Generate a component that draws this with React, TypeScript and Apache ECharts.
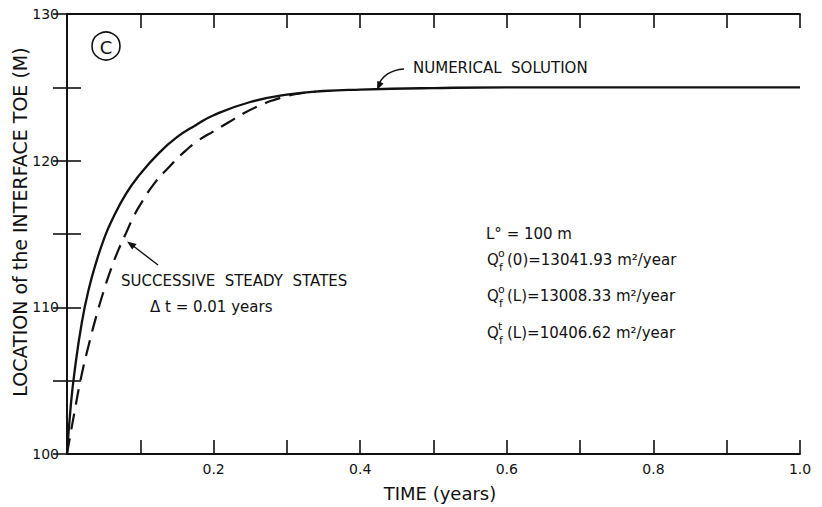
import React, { useEffect, useRef } from "react";
import * as echarts from "echarts";

// Numerical solution (solid line)
const timeNumerical = [0, 0.005, 0.01, 0.02, 0.03, 0.04, 0.05, 0.06, 0.08, 0.1, 0.125, 0.15, 0.175, 0.2, 0.25, 0.3, 0.35, 0.4, 0.5, 0.6, 0.8, 1.0];
const toeNumerical = [100, 103.2, 105.5, 108.9, 111.3, 113.1, 114.6, 115.8, 117.7, 119.1, 120.5, 121.6, 122.4, 123.1, 124.0, 124.5, 124.75, 124.85, 124.95, 125.0, 125.0, 125.0];

// Successive steady states, dt = 0.01 years (dashed line)
const timeSteady = [0, 0.01, 0.02, 0.03, 0.04, 0.05, 0.06, 0.07, 0.08, 0.09, 0.1, 0.12, 0.14, 0.16, 0.18, 0.2, 0.22, 0.24, 0.26, 0.28, 0.3, 0.32, 0.34];
const toeSteady = [100, 102.8, 105.4, 107.5, 109.4, 111.1, 112.6, 113.9, 115.0, 116.1, 117.0, 118.5, 119.6, 120.6, 121.4, 122.0, 122.6, 123.2, 123.7, 124.1, 124.4, 124.6, 124.7];

const xLabelTicks = ["0.2", "0.4", "0.6", "0.8", "1.0"];
const yLabelTicks = ["100", "110", "120", "130"];

const FONT = "DejaVu Sans";
const BLACK = "#111";

export default function App() {
  const ref = useRef<HTMLDivElement>(null);
  useEffect(() => {
    if (!ref.current) return;
    const chart = echarts.init(ref.current, null, { renderer: "svg" });
    const numData = timeNumerical.map((t, i) => [t, toeNumerical[i]]);
    const steadyData = timeSteady.map((t, i) => [t, toeSteady[i]]);
    const axisLine = { show: true, lineStyle: { color: BLACK, width: 1.8 } };
    const tickStyle = { show: true, inside: true, length: 14, lineStyle: { color: BLACK, width: 1.6 } };
    const xFmt = (v: number) => {
      const s = v.toFixed(1);
      return xLabelTicks.includes(s) ? s : "";
    };
    const yFmt = (v: number) => {
      const s = String(Math.round(v));
      return yLabelTicks.includes(s) && Math.abs(v - Math.round(v)) < 1e-6 ? s : "";
    };
    const txt = (x: number, y: number, text: string, size: number, extra: any = {}, el: any = {}) => ({
      type: "text",
      x,
      y,
      silent: true,
      ...el,
      style: {
        text,
        font: `${size}px "${FONT}"`,
        fill: BLACK,
        align: "left",
        verticalAlign: "middle",
        ...extra,
      },
    });
    const qLine = (y: number, sup: string, rest: string) => [
      txt(487, y, "Q", 15),
      txt(498, y - 7, sup, 11),
      txt(499, y + 7, "f", 11),
      txt(507, y, rest, 15),
    ];

    chart.setOption({
      animation: false,
      backgroundColor: "#fff",
      grid: { left: 67, right: 22, top: 14, bottom: 53, containLabel: false },
      xAxis: [
        {
          type: "value",
          min: 0,
          max: 1,
          interval: 0.1,
          position: "bottom",
          axisLine,
          axisTick: tickStyle,
          splitLine: { show: false },
          axisLabel: { formatter: xFmt, color: BLACK, fontFamily: FONT, fontSize: 14, margin: 8 },
        },
        {
          type: "value",
          min: 0,
          max: 1,
          interval: 0.1,
          position: "top",
          axisLine,
          axisTick: tickStyle,
          splitLine: { show: false },
          axisLabel: { show: false },
        },
      ],
      yAxis: [
        {
          type: "value",
          min: 100,
          max: 130,
          interval: 5,
          position: "left",
          axisLine,
          axisTick: tickStyle,
          splitLine: { show: false },
          axisLabel: { formatter: yFmt, color: BLACK, fontFamily: FONT, fontSize: 14, margin: 8 },
        },
        {
          type: "value",
          min: 100,
          max: 130,
          interval: 5,
          position: "right",
          axisLine,
          axisTick: tickStyle,
          splitLine: { show: false },
          axisLabel: { show: false },
        },
      ],
      series: [
        {
          name: "NUMERICAL SOLUTION",
          type: "line",
          data: numData,
          showSymbol: false,
          smooth: 0.5,
          lineStyle: { color: BLACK, width: 2.3 },
          z: 3,
        },
        {
          name: "SUCCESSIVE STEADY STATES",
          type: "line",
          data: steadyData,
          showSymbol: false,
          smooth: 0.5,
          lineStyle: { color: BLACK, width: 2.2, type: [16, 9] },
          z: 2,
        },
      ],
      graphic: [
        // axis titles
        txt(20, 222, "LOCATION of the INTERFACE TOE (M)", 19, { align: "center" }, { rotation: Math.PI / 2 }),
        txt(440, 493, "TIME (years)", 18, { align: "center" }),
        // panel marker
        { type: "circle", shape: { cx: 106, cy: 46, r: 14 }, style: { fill: "none", stroke: BLACK, lineWidth: 1.6 }, silent: true },
        txt(106, 47, "C", 18, { align: "center" }),
        // numerical solution label and arrow
        txt(413, 68, "NUMERICAL  SOLUTION", 15),
        {
          type: "bezierCurve",
          silent: true,
          shape: { x1: 404, y1: 69, x2: 378, y2: 86, cpx1: 390, cpy1: 70, cpx2: 382, cpy2: 76 },
          style: { stroke: BLACK, lineWidth: 1.4, fill: "none" },
        },
        {
          type: "polygon",
          silent: true,
          shape: { points: [[377, 90], [383.6, 83.4], [377.4, 80.8]] },
          style: { fill: BLACK },
        },
        // steady states label and arrow
        txt(121, 281, "SUCCESSIVE  STEADY  STATES", 15),
        txt(150, 307, "Δ t = 0.01 years", 15),
        {
          type: "line",
          silent: true,
          shape: { x1: 158, y1: 265, x2: 132, y2: 245 },
          style: { stroke: BLACK, lineWidth: 1.4 },
        },
        {
          type: "polygon",
          silent: true,
          shape: { points: [[127, 241.5], [136.6, 244], [132.2, 249.6]] },
          style: { fill: BLACK },
        },
        // parameters
        txt(486, 234, "L° = 100 m", 15),
        ...qLine(260, "o", "(0)=13041.93 m²/year"),
        ...qLine(296, "o", "(L)=13008.33 m²/year"),
        ...qLine(333, "t", "(L)=10406.62 m²/year"),
      ],
    });
    return () => chart.dispose();
  }, []);
  return <div ref={ref} style={{ position: "absolute", left: 0, top: 0, width: 822, height: 507 }} />;
}
